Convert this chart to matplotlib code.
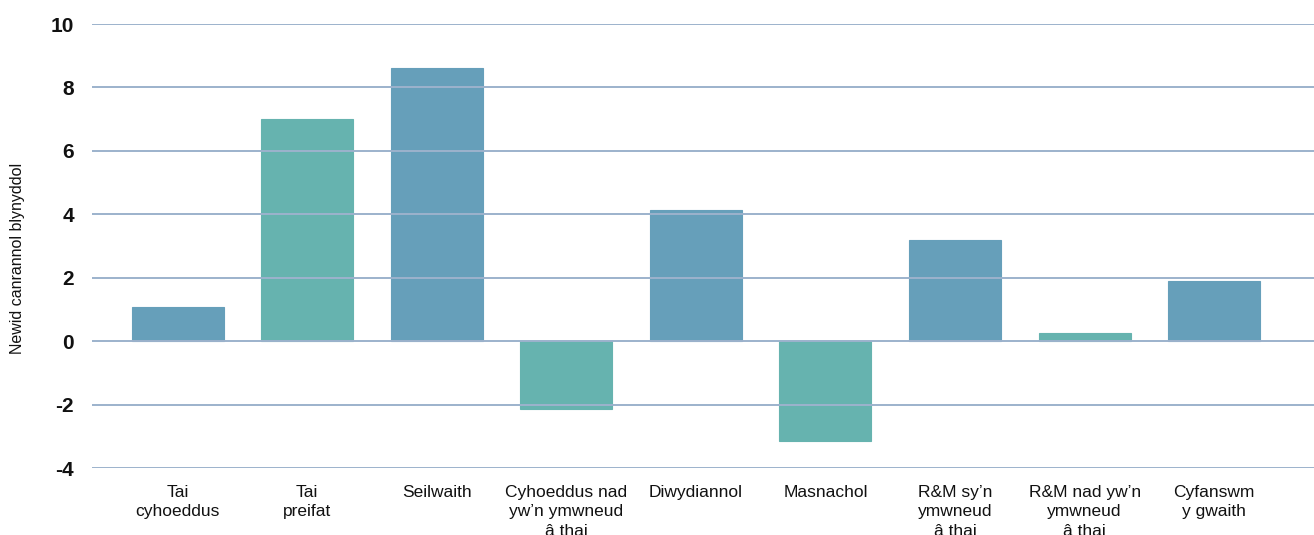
import matplotlib
matplotlib.use("Agg")
import matplotlib.pyplot as plt

categories = ["Tai\ncyhoeddus", "Tai\npreifat", "Seilwaith", "Cyhoeddus nad\nyw\u2019n ymwneud\n\u00e2 thai",
              "Diwydiannol", "Masnachol", "R&M sy\u2019n\nymwneud\n\u00e2 thai", "R&M nad yw\u2019n\nymwneud\n\u00e2 thai",
              "Cyfanswm\ny gwaith"]
values = [1.07, 7.0, 8.6, -2.14, 4.13, -3.15, 3.18, 0.25, 1.89]
is_housing = [False, True, False, True, False, True, False, True, False]
yticks = [-4, -2, 0, 2, 4, 6, 8, 10]
ylabel = "Newid canrannol blynyddol"

blue = "#669fba"
teal = "#66b3af"

plt.rcParams['font.family'] = ['Liberation Sans', 'DejaVu Sans']
fig = plt.figure(figsize=(13.14, 5.35), dpi=100)
ax = fig.add_axes([92/1314, 1-468/535, 1-92/1314, 444/535])

x = list(range(len(categories)))
colors = [teal if h else blue for h in is_housing]
ax.bar(x, values, width=0.71, color=colors, edgecolor=colors, linewidth=0.8, zorder=2)

ax.set_ylim(-4, 10)
ax.set_xlim(-0.66, 8.77)
ax.set_yticks(yticks)
ax.set_yticklabels([str(t) for t in yticks], fontsize=15, fontweight='bold', color='#111111')
ax.set_xticks(x)
ax.set_xticklabels(categories, fontsize=12.5, color='#111111', linespacing=1.4, va='top')
ax.tick_params(axis='x', length=0, pad=12)
ax.tick_params(axis='y', length=0, pad=13)
for t in yticks:
    ax.axhline(t, color='#9cb2cc', linewidth=1.4, zorder=3)
for s in ax.spines.values():
    s.set_visible(False)
fig.text(18/1314, 1-258/535, ylabel, rotation=90, fontsize=11.5, ha='center', va='center', color='#111111')

fig.savefig("out.png", dpi=100)
